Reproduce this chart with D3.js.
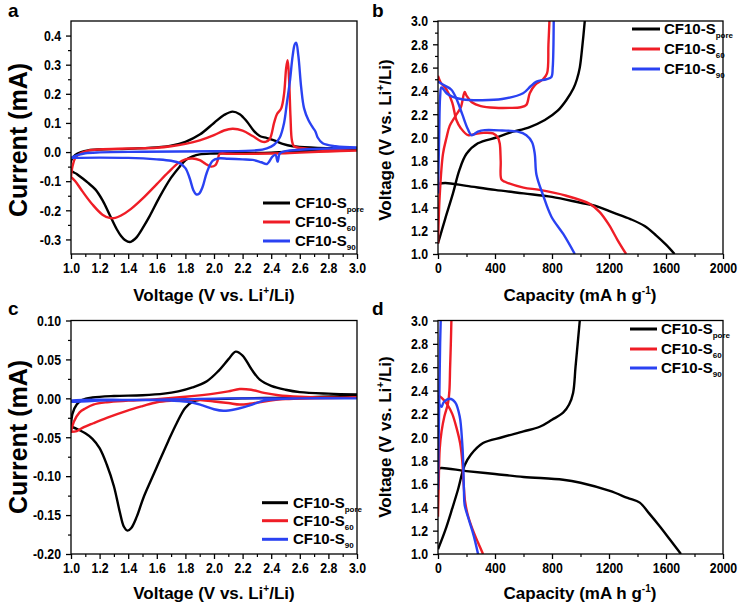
<!DOCTYPE html>
<html><head><meta charset="utf-8">
<script src="https://cdn.jsdelivr.net/npm/d3@7"></script>
<style>
body{margin:0;background:#fff}
svg{display:block}
text{font-family:"Liberation Sans",Arial,sans-serif;font-weight:bold;fill:#000}
</style>
</head><body>
<svg id="chart" width="741" height="607"></svg>
<script>
// ---------------- DATA ----------------
const seriesLabels = ["pore", "60", "90"];
const seriesColors = ["#000000", "#ef1d26", "#2a42f2"];

const cvVoltTicks = [1.0, 1.2, 1.4, 1.6, 1.8, 2.0, 2.2, 2.4, 2.6, 2.8, 3.0];
const aCurrentTicks = [-0.3, -0.2, -0.1, 0.0, 0.1, 0.2, 0.3, 0.4];
const cCurrentTicks = [-0.20, -0.15, -0.10, -0.05, 0.00, 0.05, 0.10];
const capTicks = [0, 400, 800, 1200, 1600, 2000];
const gcdVoltTicks = [1.0, 1.2, 1.4, 1.6, 1.8, 2.0, 2.2, 2.4, 2.6, 2.8, 3.0];

// Panel a: CV (voltage V, current mA) cathodic then anodic sweep
const aPoreCath = [[3.0,0.012],[2.8,0.008],[2.6,0.003],[2.4,-0.002],[2.2,-0.003],[2.0,-0.005],[1.9,-0.008],[1.85,-0.015],[1.8,-0.028],[1.76,-0.05],[1.7,-0.088],[1.62,-0.154],[1.55,-0.22],[1.5,-0.262],[1.46,-0.292],[1.43,-0.305],[1.41,-0.309],[1.38,-0.303],[1.35,-0.288],[1.32,-0.265],[1.27,-0.215],[1.22,-0.165],[1.17,-0.128],[1.12,-0.106],[1.08,-0.09],[1.04,-0.075],[1.0,-0.063]];
const aPoreAnod = [[1.0,-0.03],[1.03,-0.01],[1.07,0.0],[1.12,0.006],[1.2,0.009],[1.4,0.011],[1.6,0.016],[1.7,0.022],[1.8,0.035],[1.9,0.06],[2.0,0.1],[2.07,0.127],[2.13,0.139],[2.18,0.13],[2.23,0.105],[2.28,0.072],[2.32,0.055],[2.37,0.048],[2.42,0.04],[2.48,0.028],[2.55,0.02],[2.7,0.015],[2.85,0.013],[3.0,0.012]];
const a60Cath = [[3.0,0.005],[2.8,0.002],[2.6,-0.002],[2.5,-0.004],[2.3,-0.006],[2.1,-0.006],[2.04,-0.006],[2.025,-0.03],[2.01,-0.045],[1.98,-0.05],[1.94,-0.04],[1.9,-0.028],[1.85,-0.022],[1.8,-0.025],[1.75,-0.038],[1.68,-0.07],[1.6,-0.11],[1.5,-0.16],[1.42,-0.195],[1.35,-0.218],[1.31,-0.226],[1.27,-0.226],[1.22,-0.215],[1.15,-0.18],[1.08,-0.135],[1.03,-0.1],[1.0,-0.085]];
const a60Anod = [[1.0,-0.085],[1.01,-0.05],[1.03,-0.02],[1.07,-0.003],[1.12,0.005],[1.2,0.009],[1.4,0.012],[1.6,0.015],[1.7,0.02],[1.8,0.028],[1.9,0.04],[2.0,0.058],[2.07,0.074],[2.13,0.08],[2.2,0.074],[2.27,0.055],[2.33,0.037],[2.36,0.035],[2.39,0.045],[2.42,0.1],[2.44,0.13],[2.47,0.15],[2.49,0.2],[2.505,0.29],[2.515,0.315],[2.525,0.25],[2.535,0.12],[2.545,0.04],[2.56,0.02],[2.65,0.012],[2.8,0.008],[3.0,0.005]];
const a90Cath = [[3.0,0.015],[2.8,0.012],[2.6,0.008],[2.5,0.003],[2.46,-0.005],[2.445,-0.033],[2.43,-0.01],[2.41,-0.015],[2.37,-0.041],[2.33,-0.035],[2.27,-0.027],[2.2,-0.025],[2.1,-0.023],[2.03,-0.022],[1.99,-0.03],[1.95,-0.07],[1.92,-0.12],[1.895,-0.143],[1.875,-0.145],[1.855,-0.13],[1.83,-0.09],[1.8,-0.055],[1.76,-0.038],[1.7,-0.03],[1.6,-0.025],[1.4,-0.02],[1.2,-0.019],[1.0,-0.02]];
const a90Anod = [[1.0,-0.02],[1.05,-0.01],[1.1,-0.004],[1.2,-0.001],[1.5,0.001],[2.0,0.003],[2.3,0.006],[2.37,0.013],[2.42,0.025],[2.46,0.05],[2.49,0.1],[2.51,0.17],[2.53,0.24],[2.55,0.33],[2.565,0.37],[2.575,0.375],[2.59,0.33],[2.61,0.22],[2.63,0.15],[2.66,0.11],[2.69,0.085],[2.71,0.07],[2.725,0.05],[2.76,0.03],[2.85,0.02],[3.0,0.016]];

// Panel b: discharge / charge (capacity mA h g-1, voltage V)
const bPoreDis = [[0,1.60],[50,1.61],[200,1.585],[400,1.55],[600,1.52],[800,1.49],[1000,1.44],[1100,1.415],[1230,1.355],[1350,1.30],[1450,1.24],[1530,1.16],[1600,1.08],[1660,1.0]];
const bPoreChg = [[0,1.09],[50,1.3],[105,1.52],[150,1.72],[200,1.86],[280,1.95],[410,2.0],[500,2.04],[644,2.09],[750,2.15],[840,2.23],[900,2.32],[950,2.42],[975,2.5],[995,2.6],[1010,2.75],[1030,3.0]];
const b60Dis = [[0,2.53],[20,2.47],[60,2.41],[100,2.3],[129,2.15],[160,2.08],[211,2.02],[260,2.03],[320,2.04],[386,2.035],[420,2.0],[433,1.95],[440,1.8],[445,1.64],[470,1.62],[600,1.57],[714,1.55],[900,1.5],[1065,1.43],[1135,1.36],[1200,1.25],[1260,1.12],[1320,1.0]];
const b60Chg = [[0,1.09],[12,1.5],[35,1.86],[60,2.0],[82,2.1],[120,2.18],[160,2.26],[187,2.39],[200,2.36],[240,2.3],[300,2.27],[400,2.255],[503,2.254],[580,2.26],[620,2.28],[644,2.38],[680,2.45],[737,2.5],[765,2.55],[775,2.8],[782,3.0]];
const b90Dis = [[0,2.48],[40,2.45],[94,2.41],[130,2.33],[170,2.2],[210,2.07],[235,2.02],[280,2.05],[328,2.063],[450,2.06],[560,2.05],[620,2.02],[660,1.96],[679,1.86],[691,1.68],[737,1.506],[796,1.32],[880,1.17],[960,1.0]];
const b90Chg = [[0,1.52],[8,2.0],[15,2.35],[24,2.43],[60,2.38],[100,2.35],[176,2.326],[300,2.32],[450,2.33],[597,2.38],[650,2.44],[691,2.48],[760,2.5],[796,2.52],[805,2.6],[812,3.0]];

// Panel c: CV
const cPoreCath = [[3.0,0.004],[2.6,0.001],[2.2,0.0],[2.0,-0.001],[1.9,-0.002],[1.855,-0.004],[1.8,-0.012],[1.739,-0.032],[1.68,-0.055],[1.622,-0.079],[1.56,-0.105],[1.506,-0.128],[1.46,-0.152],[1.42,-0.167],[1.395,-0.17],[1.37,-0.165],[1.34,-0.145],[1.3,-0.113],[1.25,-0.085],[1.2,-0.064],[1.15,-0.052],[1.1,-0.045],[1.05,-0.04],[1.0,-0.036]];
const cPoreAnod = [[1.0,-0.036],[1.01,-0.02],[1.04,-0.008],[1.08,-0.002],[1.15,0.001],[1.3,0.003],[1.5,0.004],[1.65,0.006],[1.75,0.009],[1.85,0.014],[1.95,0.022],[2.03,0.035],[2.1,0.05],[2.152,0.06],[2.2,0.055],[2.26,0.038],[2.32,0.024],[2.4,0.016],[2.5,0.011],[2.6,0.008],[2.8,0.006],[3.0,0.005]];
const c60Cath = [[3.0,0.001],[2.7,0.0],[2.5,-0.001],[2.35,-0.004],[2.25,-0.007],[2.18,-0.008],[2.1,-0.006],[2.0,-0.004],[1.85,-0.002],[1.7,-0.003],[1.6,-0.005],[1.5,-0.01],[1.39,-0.016],[1.25,-0.025],[1.156,-0.032],[1.08,-0.038],[1.04,-0.042],[1.0,-0.043]];
const c60Anod = [[1.0,-0.043],[1.02,-0.03],[1.06,-0.018],[1.1,-0.013],[1.156,-0.008],[1.25,-0.005],[1.4,-0.003],[1.6,-0.001],[1.8,0.002],[2.0,0.006],[2.1,0.009],[2.18,0.012],[2.26,0.011],[2.35,0.007],[2.45,0.004],[2.6,0.002],[2.8,0.001],[3.0,0.001]];
const c90Cath = [[3.0,0.0],[2.6,0.0],[2.45,-0.001],[2.35,-0.003],[2.25,-0.009],[2.15,-0.014],[2.066,-0.016],[2.0,-0.014],[1.92,-0.009],[1.84,-0.005],[1.7,-0.003],[1.4,-0.002],[1.0,-0.003]];
const c90Anod = [[1.0,-0.004],[1.2,-0.003],[1.5,-0.002],[1.8,-0.001],[2.1,0.0],[2.5,0.0],[3.0,0.0]];

// Panel d: discharge / charge
const dPoreDis = [[0,1.73],[24,1.736],[200,1.71],[400,1.685],[600,1.66],[878,1.636],[1000,1.61],[1206,1.54],[1330,1.48],[1416,1.44],[1480,1.35],[1557,1.236],[1630,1.12],[1705,1.0]];
const dPoreChg = [[0,1.04],[50,1.2],[100,1.39],[140,1.55],[187,1.76],[230,1.85],[316,1.95],[450,2.0],[600,2.05],[714,2.09],[800,2.15],[878,2.21],[920,2.28],[948,2.38],[965,2.6],[980,2.8],[995,3.0]];
const d60Dis = [[0,2.35],[12,2.35],[40,2.32],[70,2.27],[100,2.2],[130,2.08],[155,1.95],[170,1.8],[180,1.6],[190,1.45],[210,1.33],[240,1.22],[280,1.1],[316,1.0]];
const d60Chg = [[0,1.32],[5,1.6],[12,1.9],[25,2.05],[45,2.18],[70,2.29],[80,2.4],[85,2.6],[90,2.8],[94,3.0]];
const d90Dis = [[0,2.33],[10,2.28],[24,2.26],[40,2.3],[82,2.33],[120,2.3],[152,2.18],[170,1.95],[176,1.81],[182,1.55],[187,1.42],[215,1.3],[250,1.16],[281,1.0]];
const d90Chg = [[0,1.55],[5,2.0],[10,2.4],[15,2.8],[19,3.0]];

// ---------------- DRAWING ----------------
const svg = d3.select("#chart");
const TICK_SIZE = 15;
const TICK_SCALE = 0.82;

// parts: {t, sub|sup}; offset is carried to the next tspan so no empty tspans are made
function rich(sel, parts, subSize, supSize) {
  let pending = 0;
  parts.forEach(p => {
    const ts = sel.append("tspan").text(p.t);
    let shift = 0;
    if (p.sub) { shift = 4; ts.attr("font-size", subSize); }
    if (p.sup) { shift = -7; ts.attr("font-size", supSize); }
    const dy = pending + shift;
    if (dy !== 0) ts.attr("dy", dy);
    pending = -shift;
  });
}

const voltTitle = [{t:"Voltage (V vs. Li"},{t:"+",sup:true},{t:"/Li)"}];
const capTitle = [{t:"Capacity (mA h g"},{t:"-1",sup:true},{t:")"}];
const curTitle = [{t:"Current (mA)"}];

const panels = [
  {letter:"a", lx:8, ly:17, type:"cv", series:[[aPoreCath,aPoreAnod],[a60Cath,a60Anod],[a90Cath,a90Anod]],
   xDom:[1,3], yDom:[-0.35,0.45], xr:[71,357], yr:[254,21],
   xt:cvVoltTicks, yt:aCurrentTicks, xf:v=>v.toFixed(1), yf:v=>v.toFixed(1),
   xTitle:voltTitle, yTitle:curTitle, yTitleSize:25, xTitleX:214, xTitleY:301, yTitleX:27, yTitleY:140,
   leg:{x1:263,x2:290,tx:295,rows:[203,222,241]}},
  {letter:"b", lx:372, ly:17, type:"gcd", series:[[bPoreDis,bPoreChg],[b60Dis,b60Chg],[b90Dis,b90Chg]],
   xDom:[0,2000], yDom:[1,3], xr:[438,723], yr:[254,21],
   xt:capTicks, yt:gcdVoltTicks, xf:v=>String(v), yf:v=>v.toFixed(1),
   xTitle:capTitle, yTitle:voltTitle, yTitleSize:17, xTitleX:580, xTitleY:301, yTitleX:391, yTitleY:140,
   leg:{x1:632,x2:660,tx:664,rows:[29,49,69]}},
  {letter:"c", lx:8, ly:315, type:"cv", series:[[cPoreCath,cPoreAnod],[c60Cath,c60Anod],[c90Cath,c90Anod]],
   xDom:[1,3], yDom:[-0.2,0.1], xr:[71,357], yr:[554,320.5],
   xt:cvVoltTicks, yt:cCurrentTicks, xf:v=>v.toFixed(1), yf:v=>v.toFixed(2),
   xTitle:voltTitle, yTitle:curTitle, yTitleSize:25, xTitleX:214, xTitleY:599, yTitleX:27, yTitleY:437,
   leg:{x1:262,x2:288,tx:293,rows:[502.7,520.7,539.3]}},
  {letter:"d", lx:372, ly:315, type:"gcd", series:[[dPoreDis,dPoreChg],[d60Dis,d60Chg],[d90Dis,d90Chg]],
   xDom:[0,2000], yDom:[1,3], xr:[438,723], yr:[554,320.5],
   xt:capTicks, yt:gcdVoltTicks, xf:v=>String(v), yf:v=>v.toFixed(1),
   xTitle:capTitle, yTitle:voltTitle, yTitleSize:17, xTitleX:580, xTitleY:599, yTitleX:391, yTitleY:437,
   leg:{x1:630,x2:657,tx:661,rows:[329,349,368]}}
];

function mids(arr) {
  const out = [];
  for (let i = 0; i < arr.length - 1; i++) out.push((arr[i] + arr[i+1]) / 2);
  return out;
}

panels.forEach((p, pi) => {
  const x = d3.scaleLinear().domain(p.xDom).range(p.xr);
  const y = d3.scaleLinear().domain(p.yDom).range(p.yr);
  const g = svg.append("g");
  const clipId = "clip" + pi;
  svg.append("clipPath").attr("id", clipId).append("rect")
    .attr("x", p.xr[0]).attr("y", p.yr[1]).attr("width", p.xr[1]-p.xr[0]).attr("height", p.yr[0]-p.yr[1]);

  // data lines
  const line = d3.line().x(d => x(d[0])).y(d => y(d[1])).curve(d3.curveCatmullRom.alpha(0.5));
  const lg = g.append("g").attr("clip-path", `url(#${clipId})`);
  p.series.forEach((s, si) => {
    const paths = p.type === "cv" ? [s[0].concat(s[1])] : s;
    paths.forEach(arr => {
      lg.append("path").attr("d", line(arr)).attr("fill","none")
        .attr("stroke", seriesColors[si]).attr("stroke-width", 2.4).attr("stroke-linejoin","round");
    });
  });

  // frame
  g.append("rect").attr("x", p.xr[0]).attr("y", p.yr[1]).attr("width", p.xr[1]-p.xr[0]).attr("height", p.yr[0]-p.yr[1])
    .attr("fill","none").attr("stroke","#000").attr("stroke-width",1.3);

  // axes
  const xAx = g.append("g").attr("transform", `translate(0,${p.yr[0]})`)
    .call(d3.axisBottom(x).tickValues(p.xt).tickFormat(p.xf).tickSizeInner(5).tickSizeOuter(0).tickPadding(3));
  xAx.select(".domain").remove();
  xAx.selectAll("text").attr("font-size", TICK_SIZE).attr("font-family", null).attr("transform", `scale(${TICK_SCALE},1)`);
  xAx.selectAll("line").attr("stroke-width", 1.3);
  const xMin = g.append("g").attr("transform", `translate(0,${p.yr[0]})`)
    .call(d3.axisBottom(x).tickValues(mids(p.xt)).tickFormat("").tickSizeInner(3).tickSizeOuter(0));
  xMin.select(".domain").remove();
  xMin.selectAll("text").remove();
  xMin.selectAll("line").attr("stroke-width", 1.2);

  const yAx = g.append("g").attr("transform", `translate(${p.xr[0]},0)`)
    .call(d3.axisLeft(y).tickValues(p.yt).tickFormat(p.yf).tickSizeInner(5).tickSizeOuter(0).tickPadding(5));
  yAx.select(".domain").remove();
  yAx.selectAll("text").attr("font-size", TICK_SIZE).attr("font-family", null)
    .attr("x", -10 / TICK_SCALE).attr("transform", `scale(${TICK_SCALE},1)`);
  yAx.selectAll("line").attr("stroke-width", 1.3);
  const yMin = g.append("g").attr("transform", `translate(${p.xr[0]},0)`)
    .call(d3.axisLeft(y).tickValues(mids(p.yt)).tickFormat("").tickSizeInner(3).tickSizeOuter(0));
  yMin.select(".domain").remove();
  yMin.selectAll("text").remove();
  yMin.selectAll("line").attr("stroke-width", 1.2);

  // titles
  const xt = g.append("text").attr("x", p.xTitleX).attr("y", p.xTitleY).attr("text-anchor","middle").attr("font-size", 17);
  rich(xt, p.xTitle, 11, 10);
  const yt = g.append("text").attr("transform", `translate(${p.yTitleX},${p.yTitleY}) rotate(-90)`)
    .attr("text-anchor","middle").attr("font-size", p.yTitleSize);
  rich(yt, p.yTitle, 11, 10);

  // panel letter
  g.append("text").attr("x", p.lx).attr("y", p.ly).attr("font-size", 19).text(p.letter);

  // legend
  seriesLabels.forEach((lab, i) => {
    const ry = p.leg.rows[i];
    g.append("line").attr("x1", p.leg.x1).attr("x2", p.leg.x2).attr("y1", ry).attr("y2", ry)
      .attr("stroke", seriesColors[i]).attr("stroke-width", 3);
    const t = g.append("text").attr("x", p.leg.tx).attr("y", ry + 5).attr("font-size", 15);
    rich(t, [{t:"CF10-S"},{t:lab, sub:true}], 8, 8);
  });
});
</script>
</body></html>
